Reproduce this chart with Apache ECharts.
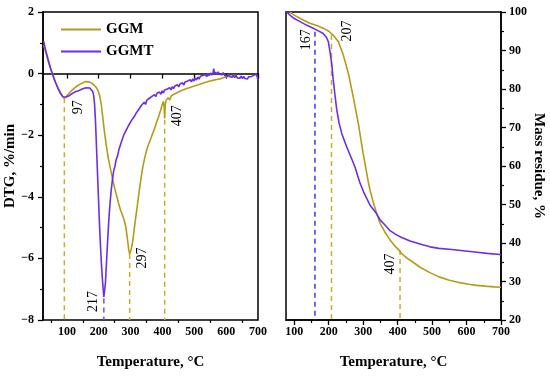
<!DOCTYPE html>
<html><head><meta charset="utf-8">
<script src="https://cdn.jsdelivr.net/npm/echarts@6/dist/echarts.min.js"></script>
<style>html,body{margin:0;padding:0;background:#fff}#c{width:550px;height:380px}</style>
</head><body><div id="c"></div><script>
// ---------- data ----------
const seriesNames = ['GGM', 'GGMT'];
const xTicksLeft = [100, 200, 300, 400, 500, 600, 700];
const xMinorLeft = [50, 150, 250, 350, 450, 550, 650];
const xTicksRight = [100, 200, 300, 400, 500, 600, 700];
const xMinorRight = [150, 250, 350, 450, 550, 650];

const dtgGGM = [[27,0.92],[33,0.72],[40,0.46],[48,0.18],[56,-0.06],[64,-0.28],[72,-0.46],[80,-0.61],[87,-0.73],[92,-0.81],[96,-0.78],[102,-0.7],[110,-0.6],[120,-0.5],[130,-0.42],[140,-0.35],[150,-0.3],[157,-0.26],[163,-0.24],[170,-0.27],[178,-0.31],[186,-0.38],[193,-0.46],[198,-0.56],[203,-0.72],[208,-1.0],[213,-1.45],[218,-1.9],[224,-2.35],[230,-2.75],[237,-3.1],[244,-3.45],[250,-3.72],[256,-3.96],[262,-4.2],[268,-4.42],[274,-4.58],[280,-4.76],[285,-4.98],[290,-5.36],[294,-5.7],[297,-5.86],[301,-5.74],[305,-5.55],[309,-5.26],[313,-4.92],[317,-4.6],[321,-4.3],[326,-3.9],[332,-3.45],[338,-3.05],[344,-2.75],[350,-2.5],[356,-2.3],[362,-2.15],[368,-1.98],[374,-1.82],[381,-1.6],[388,-1.4],[394,-1.2],[399,-1.02],[403,-0.9],[405,-1.05],[407,-1.45],[409,-1.0],[412,-0.86],[418,-0.78],[423,-0.86],[428,-0.72],[433,-0.78],[438,-0.66],[444,-0.72],[450,-0.6],[456,-0.66],[462,-0.54],[468,-0.6],[474,-0.49],[480,-0.54],[486,-0.45],[492,-0.5],[498,-0.41],[504,-0.46],[510,-0.37],[516,-0.42],[522,-0.33],[528,-0.37],[534,-0.29],[540,-0.34],[546,-0.25],[552,-0.3],[558,-0.22],[564,-0.27],[570,-0.19],[576,-0.24],[582,-0.17],[588,-0.21],[594,-0.13],[600,-0.18],[606,-0.09],[612,-0.14],[618,-0.07],[624,-0.11],[629,-0.05]];

const dtgGGMT = [[27,1.05],[33,0.78],[40,0.5],[48,0.2],[56,-0.05],[64,-0.28],[72,-0.48],[80,-0.65],[87,-0.75],[92,-0.79],[98,-0.76],[105,-0.73],[112,-0.68],[118,-0.66],[124,-0.6],[130,-0.63],[136,-0.56],[142,-0.56],[148,-0.5],[154,-0.53],[160,-0.46],[166,-0.49],[172,-0.47],[177,-0.53],[181,-0.58],[184,-0.7],[187,-1.0],[190,-1.6],[193,-2.4],[196,-3.2],[199,-4.0],[202,-4.8],[205,-5.5],[208,-6.1],[211,-6.6],[214,-7.0],[216,-7.25],[218,-7.2],[221,-6.8],[224,-6.2],[227,-5.6],[230,-5.05],[233,-4.55],[236,-4.15],[239,-3.8],[243,-3.45],[247,-3.15],[251,-3.0],[255,-2.78],[259,-2.68],[263,-2.48],[267,-2.42],[271,-2.22],[275,-2.18],[279,-1.98],[283,-2.0],[287,-1.82],[291,-1.86],[295,-1.66],[299,-1.7],[303,-1.52],[307,-1.58],[311,-1.4],[315,-1.44],[319,-1.26],[323,-1.32],[327,-1.14],[331,-1.18],[335,-1.02],[339,-1.08],[343,-0.93],[347,-1.0],[351,-0.86],[355,-0.92],[359,-0.8],[363,-0.86],[367,-0.74],[371,-0.8],[375,-0.68],[379,-0.75],[383,-0.64],[387,-0.7],[391,-0.6],[395,-0.67],[399,-0.56],[403,-0.63],[407,-0.53],[411,-0.59],[415,-0.5],[419,-0.56],[423,-0.46],[427,-0.53],[431,-0.42],[435,-0.49],[439,-0.4],[443,-0.46],[447,-0.36],[451,-0.43],[455,-0.34],[459,-0.4],[463,-0.3],[467,-0.37],[471,-0.27],[475,-0.33],[479,-0.24],[483,-0.3],[487,-0.2],[491,-0.27],[495,-0.17],[499,-0.24],[503,-0.14],[507,-0.21],[511,-0.11],[515,-0.18],[519,-0.09],[523,-0.15],[527,-0.06],[531,-0.12],[535,-0.03],[539,-0.1],[543,0.0],[547,-0.07],[551,0.02],[555,-0.05],[559,0.03],[561,0.16],[563,-0.02],[567,0.05],[571,-0.03],[575,0.06],[579,-0.02],[583,0.04],[587,-0.04],[591,0.03],[595,-0.06],[599,0.0],[603,-0.09],[607,-0.02],[611,-0.1],[615,-0.04],[619,-0.12],[623,-0.05],[627,-0.13],[631,-0.06],[635,-0.14],[639,-0.08],[643,-0.15],[647,-0.08],[651,-0.16],[655,-0.09],[659,-0.16],[663,-0.1],[667,-0.17],[671,-0.1],[675,-0.16],[679,-0.1],[683,-0.14],[687,-0.05],[691,-0.1],[695,-0.02],[700,-0.2]];

const tgGGM = [[87,100],[100,99.2],[120,98.2],[145,97.1],[165,96.5],[184,95.8],[200,95.0],[213,94.0],[228,92.3],[242,88.9],[257,84.1],[271,78.0],[286,71.0],[300,63.2],[315,55.8],[320,53.7],[330,50.3],[339,47.7],[349,45.1],[362,43.0],[378,40.8],[392,39.2],[403,38.3],[406,38.2],[408,37.6],[415,37.0],[430,35.9],[445,35.0],[465,33.7],[494,32.3],[520,31.2],[548,30.4],[580,29.7],[606,29.3],[630,29.0],[654,28.8],[680,28.6],[700,28.5]];

const tgGGMT = [[78,100],[90,99.0],[100,98.3],[117,97.5],[135,96.6],[155,95.8],[170,95.1],[184,94.4],[194,93.3],[199,92.2],[204,89.5],[209,86.3],[213,82.5],[218,78.5],[223,74.8],[230,71.2],[238,68.4],[252,65.0],[265,62.2],[276,59.8],[290,55.8],[301,53.3],[320,49.8],[339,47.6],[349,46.0],[364,44.6],[378,43.2],[393,42.3],[410,41.5],[436,40.5],[470,39.6],[494,39.0],[520,38.6],[557,38.3],[590,38.0],[630,37.6],[660,37.3],[697,37.0],[700,36.9]];

// dashed guide lines: label text, temperature, value where the line starts, series it belongs to
const dtgMarkers = [
  { text: '97',  t: 92,  top: -0.8,  of: 'GGM' },
  { text: '297', t: 297, top: -5.86, of: 'GGM' },
  { text: '407', t: 407, top: -1.5,  of: 'GGM' },
  { text: '217', t: 216, top: -7.3,  of: 'GGMT' }
];
const tgMarkers = [
  { text: '167', t: 160, top: 94.9, of: 'GGMT' },
  { text: '207', t: 208, top: 94.0, of: 'GGM' },
  { text: '407', t: 407, top: 38.2, of: 'GGM' }
];
const dtgMin = -8, dtgMax = 2;
const tgMin = 20, tgMax = 100;

// ---------- styling ----------
const FONT = "'Liberation Serif', 'DejaVu Serif', serif";
const colors = { GGM: '#B59B1C', GGMT: '#6B2FE6' };
const dashColorsLeft = { GGM: '#C4AE2E', GGMT: '#7A4AE6' };
const dashColorsRight = { GGM: '#C4AE2E', GGMT: '#3D3AEA' };
// pixel offsets of annotation text from the top of each dashed line
const dtgLabelOffsets = [[14, 9], [13, 4], [13, -4], [-11, 3]];
const tgLabelOffsets = [[-9, 8], [16, -4], [-10, 14]];

const minus = v => String(v).replace('-', '\u2212');
const axisLineStyle = { show: true, lineStyle: { color: '#000', width: 1.5 } };
const labelStyle = { color: '#000', fontFamily: FONT, fontWeight: 'bold', fontSize: 12 };
const nameStyle = { color: '#000', fontFamily: FONT, fontWeight: 'bold', fontSize: 15 };

function mainX(grid, min, ticks) {
  return {
    type: 'value', gridIndex: grid, min: min, max: 700, position: 'bottom',
    axisLine: axisLineStyle,
    axisTick: { show: true, customValues: ticks, length: 5, lineStyle: { color: '#000', width: 1.3 } },
    axisLabel: Object.assign({ customValues: ticks, margin: 6 }, labelStyle),
    splitLine: { show: false },
    name: 'Temperature, \u00B0C', nameLocation: 'middle', nameGap: 35, nameTextStyle: nameStyle
  };
}
function minorX(grid, min, ticks) {
  return {
    type: 'value', gridIndex: grid, min: min, max: 700, position: 'bottom',
    axisLine: { show: false },
    axisTick: { show: true, customValues: ticks, length: 3, lineStyle: { color: '#000', width: 1.2 } },
    axisLabel: { show: false, customValues: ticks },
    splitLine: { show: false }
  };
}

function curve(name, data, xi, yi) {
  return {
    type: 'line', name: name, data: data, xAxisIndex: xi, yAxisIndex: yi,
    symbol: 'none', smooth: false, lineStyle: { color: colors[name], width: 1.6 },
    itemStyle: { color: colors[name] }, silent: true, z: 3
  };
}
function dashLine(m, bottom, xi, yi, palette) {
  return {
    type: 'line', name: 'mark' + m.text, data: [[m.t, m.top], [m.t, bottom]],
    xAxisIndex: xi, yAxisIndex: yi, symbol: 'none', silent: true, z: 2,
    lineStyle: { color: palette[m.of], width: 1.5, type: [5, 4] }
  };
}

const option = {
  animation: false,
  backgroundColor: '#fff',
  grid: [
    { left: 43, top: 12, width: 215, height: 308, show: true, borderColor: '#000', borderWidth: 1.5, containLabel: false },
    { left: 286, top: 12, width: 215, height: 308, show: true, borderColor: '#000', borderWidth: 1.5, containLabel: false }
  ],
  legend: {
    data: seriesNames.map(n => ({ name: n, icon: 'rect', itemStyle: { color: colors[n] } })),
    orient: 'vertical', left: 56, top: 17,
    itemWidth: 40, itemHeight: 2, itemGap: 7,
    textStyle: { color: '#000', fontFamily: FONT, fontWeight: 'bold', fontSize: 15, lineHeight: 14 }
  },
  xAxis: [mainX(0, 25, xTicksLeft), minorX(0, 25, xMinorLeft), mainX(1, 76, xTicksRight), minorX(1, 76, xMinorRight)],
  yAxis: [
    {
      type: 'value', gridIndex: 0, min: dtgMin, max: dtgMax, interval: 2, position: 'left',
      axisLine: axisLineStyle,
      axisTick: { show: true, length: 5, lineStyle: { color: '#000', width: 1.3 } },
      minorTick: { show: true, splitNumber: 2, length: 3, lineStyle: { color: '#000', width: 1.2 } },
      axisLabel: Object.assign({ margin: 9, formatter: minus }, labelStyle),
      splitLine: { show: false }, minorSplitLine: { show: false },
      name: 'DTG, %/min', nameLocation: 'middle', nameGap: 21, nameTextStyle: nameStyle
    },
    {
      type: 'value', gridIndex: 1, min: tgMin, max: tgMax, interval: 10, position: 'right',
      axisLine: axisLineStyle,
      axisTick: { show: true, length: 5, lineStyle: { color: '#000', width: 1.3 } },
      minorTick: { show: true, splitNumber: 2, length: 3, lineStyle: { color: '#000', width: 1.2 } },
      axisLabel: Object.assign({ margin: 8 }, labelStyle),
      splitLine: { show: false }, minorSplitLine: { show: false },
      name: 'Mass residue, %', nameLocation: 'middle', nameRotate: -90, nameGap: 28, nameTextStyle: nameStyle
    }
  ],
  series: [
    ...dtgMarkers.map(m => dashLine(m, dtgMin, 0, 0, dashColorsLeft)),
    ...tgMarkers.map(m => dashLine(m, tgMin, 2, 1, dashColorsRight)),
    curve('GGM', dtgGGM, 0, 0),
    curve('GGMT', dtgGGMT, 0, 0),
    curve('GGM', tgGGM, 2, 1),
    curve('GGMT', tgGGMT, 2, 1)
  ]
};

const chart = echarts.init(document.getElementById('c'), null, { renderer: 'canvas' });
chart.setOption(option);

// rotated annotation numbers next to the dashed lines, positioned through the axes
function annot(markers, offsets, finder) {
  return markers.map((m, i) => {
    const p = chart.convertToPixel(finder, [m.t, m.top]);
    return {
      type: 'text', x: p[0] + offsets[i][0], y: p[1] + offsets[i][1], rotation: Math.PI / 2, z: 10,
      style: { text: m.text, fill: '#000', font: '14px ' + FONT, textAlign: 'center', textVerticalAlign: 'middle' }
    };
  });
}
chart.setOption({
  graphic: [
    ...annot(dtgMarkers, dtgLabelOffsets, { xAxisIndex: 0, yAxisIndex: 0 }),
    ...annot(tgMarkers, tgLabelOffsets, { xAxisIndex: 2, yAxisIndex: 1 })
  ]
});
</script></body></html>
